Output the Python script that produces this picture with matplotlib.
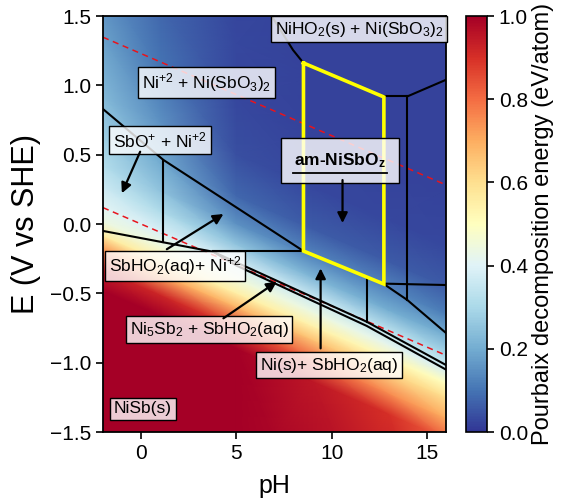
import numpy as np
import matplotlib
matplotlib.use("Agg")
import matplotlib.pyplot as plt

plt.rcParams['font.family'] = ['Liberation Sans', 'DejaVu Sans']
plt.rcParams['mathtext.fontset'] = 'custom'
plt.rcParams['mathtext.rm'] = 'Liberation Sans'
plt.rcParams['mathtext.it'] = 'Liberation Sans:italic'
plt.rcParams['mathtext.bf'] = 'Liberation Sans:bold'

# ---------------- data ----------------
NERNST = 0.0592
ph_cols = [-2, 1, 5, 9, 13, 16]
# potential vs RHE (E + 0.0592 pH) at which the energy was read
rhe_levels = [-1.7, -0.6, -0.45, -0.3, -0.2, -0.1, 0.0, 0.15, 0.3, 0.5, 0.8, 1.2, 1.6, 2.5]
energy = [
    [1.00, 1.00, 1.00, 1.00, 1.00, 1.00],
    [1.00, 1.00, 1.00, 0.95, 0.90, 0.82],
    [0.93, 0.92, 0.88, 0.82, 0.75, 0.70],
    [0.73, 0.70, 0.68, 0.66, 0.62, 0.60],
    [0.56, 0.55, 0.55, 0.54, 0.52, 0.50],
    [0.44, 0.45, 0.45, 0.44, 0.42, 0.38],
    [0.41, 0.39, 0.38, 0.36, 0.33, 0.30],
    [0.36, 0.31, 0.25, 0.22, 0.20, 0.20],
    [0.32, 0.25, 0.15, 0.13, 0.13, 0.12],
    [0.28, 0.20, 0.08, 0.06, 0.06, 0.06],
    [0.23, 0.15, 0.04, 0.03, 0.03, 0.03],
    [0.18, 0.10, 0.03, 0.02, 0.02, 0.02],
    [0.14, 0.08, 0.03, 0.02, 0.02, 0.02],
    [0.10, 0.06, 0.02, 0.02, 0.02, 0.02],
]

water_upper = [(-2, 1.347), (16, 0.282)]
water_lower = [(-2, 0.118), (16, -0.947)]

boundaries = [
    [(-2, 0.829), (1.17, 0.462), (8.52, -0.195)],
    [(1.17, 0.462), (1.17, -0.132)],
    [(-2, -0.05), (3.78, -0.20)],
    [(3.78, -0.197), (8.52, -0.197)],
    [(3.78, -0.20), (11.84, -0.705), (16, -1.017)],
    [(3.78, -0.20), (5.0, -0.30), (11.84, -0.735), (16, -1.05)],
    [(11.84, -0.382), (11.84, -0.705)],
    [(12.74, -0.433), (13.97, -0.548), (16, -0.786)],
    [(12.74, -0.43), (16, -0.44)],
    [(13.97, 0.923), (13.97, -0.548)],
    [(12.74, 0.92), (13.97, 0.92)],
    [(13.97, 0.92), (16, 1.04)],
    [(6.85, 1.5), (7.97, 1.255), (8.52, 1.161)],
]

target_region = [(8.52, 1.161), (12.74, 0.916), (12.74, -0.433), (8.52, -0.195), (8.52, 1.161)]

labels = [
    ("NiHO$_2$(s) + Ni(SbO$_3$)$_2$", 11.45, 1.405),
    ("Ni$^{+2}$ + Ni(SbO$_3$)$_2$", 3.43, 1.02),
    ("SbO$^{+}$ + Ni$^{+2}$", 1.0, 0.606),
    ("SbHO$_2$(aq)+ Ni$^{+2}$", 1.78, -0.303),
    ("Ni$_5$Sb$_2$ + SbHO$_2$(aq)", 3.57, -0.76),
    ("Ni(s)+ SbHO$_2$(aq)", 9.86, -1.017),
    ("NiSb(s)", 0.1, -1.334),
]

arrows = [
    ((-0.05, 0.521), (-1.01, 0.222)),
    ((1.35, -0.182), (4.32, 0.072)),
    ((4.32, -0.68), (7.12, -0.416)),
    ((9.42, -0.897), (9.42, -0.32)),
    ((10.57, 0.317), (10.57, 0.007)),
]

# ---------------- figure ----------------
fig = plt.figure(figsize=(5.66, 5.0), dpi=100)
ax = fig.add_axes([103/566, 1-432/500, 343/566, 416/500])
cax = fig.add_axes([466/566, 1-432/500, 21/566, 416/500])

PH, RHE = np.meshgrid(np.array(ph_cols, float), np.array(rhe_levels, float))
EE = RHE - NERNST * PH
mesh = ax.pcolormesh(PH, EE, np.array(energy), shading='gouraud',
                     cmap='RdYlBu_r', vmin=0, vmax=1, zorder=0)

for seg in (water_upper, water_lower):
    xs, ys = zip(*seg)
    ax.plot(xs, ys, color='#e8141c', ls=(0, (4, 3)), lw=1.1, zorder=2)

for seg in boundaries:
    xs, ys = zip(*seg)
    ax.plot(xs, ys, color='black', lw=1.5, zorder=2, solid_joinstyle='miter')

xs, ys = zip(*target_region)
ax.plot(xs, ys, color='#ffff00', lw=2.6, zorder=3, solid_joinstyle='miter')

box = dict(boxstyle='square,pad=0.22', fc=(1, 1, 1, 0.8), ec='black', lw=1.0)
for txt, x, y in labels:
    ax.text(x, y, txt, ha='center', va='center', fontsize=12.5, bbox=box, zorder=4)

ax.text(10.43, 0.46, "am-NiSbO$_\\mathbf{z}$", ha='center', va='center', fontsize=12.5,
        fontweight='bold',
        bbox=dict(boxstyle='square,pad=0.75', fc=(1, 1, 1, 0.8), ec='black', lw=1.0), zorder=4)
ax.plot([7.95, 12.9], [0.368, 0.368], color='black', lw=1.3, zorder=5)

for start, tip in arrows:
    ax.annotate('', xy=tip, xytext=start,
                arrowprops=dict(arrowstyle='-|>', color='black', lw=1.6, mutation_scale=15,
                                shrinkA=0, shrinkB=0), zorder=5)

ax.set_xlim(-2, 16)
ax.set_ylim(-1.5, 1.5)
ax.set_xticks([0, 5, 10, 15])
ax.set_yticks([-1.5, -1.0, -0.5, 0.0, 0.5, 1.0, 1.5])
ax.set_yticklabels(['\u22121.5', '\u22121.0', '\u22120.5', '0.0', '0.5', '1.0', '1.5'])
ax.tick_params(direction='out', length=5, width=1.2, labelsize=15)
for s in ax.spines.values():
    s.set_linewidth(1.3)
ax.set_xlabel('pH', fontsize=18, labelpad=8)
ax.set_ylabel('E (V vs SHE)', fontsize=22, labelpad=6)

cb = fig.colorbar(mesh, cax=cax)
cb.set_ticks([0.0, 0.2, 0.4, 0.6, 0.8, 1.0])
cb.set_ticklabels(['0.0', '0.2', '0.4', '0.6', '0.8', '1.0'])
cb.ax.tick_params(direction='out', length=5, width=1.2, labelsize=15)
cb.outline.set_linewidth(1.2)
cb.set_label('Pourbaix decomposition energy (eV/atom)', fontsize=17, labelpad=3)

fig.savefig('out.png', dpi=100)
